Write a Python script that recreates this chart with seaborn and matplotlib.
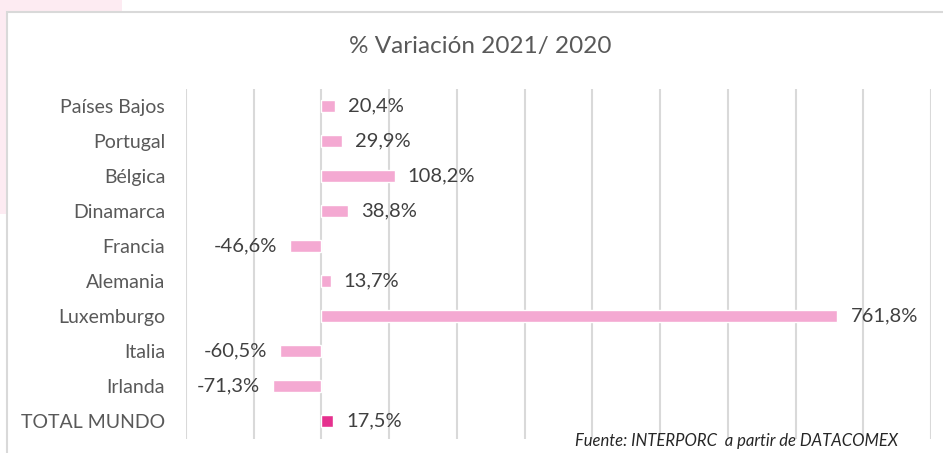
import matplotlib
matplotlib.use("Agg")
import matplotlib.pyplot as plt
from matplotlib.patches import Rectangle
import seaborn as sns
import pandas as pd

# Year-on-year change by destination country (%)
paises = ["Países Bajos", "Portugal", "Bélgica", "Dinamarca", "Francia",
          "Alemania", "Luxemburgo", "Italia", "Irlanda", "TOTAL MUNDO"]
variacion = [20.4, 29.9, 108.2, 38.8, -46.6, 13.7, 761.8, -60.5, -71.3, 17.5]
colores = ["#F4A9D2"] * 9 + ["#E5318E"]

titulo = "% Variación 2021/ 2020"
fuente = "Fuente: INTERPORC  a partir de DATACOMEX"

df = pd.DataFrame({"pais": paises, "var": variacion})

sns.set_theme(style="white")
plt.rcParams["font.family"] = ["Lato", "DejaVu Sans"]

W, H = 943, 453
fig = plt.figure(figsize=(W / 100, H / 100), dpi=100)

# soft pink backdrop in the top-left corner and the white chart frame
fig.patches.append(Rectangle((0, 1 - 214 / H), 122 / W, 214 / H,
                             transform=fig.transFigure, facecolor="#FDEBF2",
                             edgecolor="none", zorder=-3))
fig.patches.append(Rectangle((7 / W, -0.1), 1.0, 1 - 12 / H + 0.1,
                             transform=fig.transFigure, facecolor="white",
                             edgecolor="#D9D9D9", linewidth=1.5, zorder=-2))

ax = fig.add_axes([186 / W, 1 - 438.5 / H, (931 - 186) / W, (438.5 - 88.5) / H])
ax.patch.set_alpha(0)

sns.barplot(data=df, y="pais", x="var", hue="pais", palette=colores,
            orient="h", width=0.34, legend=False, ax=ax, saturation=1)

ax.set_xlim(-200, 900)
ax.set_ylim(len(paises) - 0.5, -0.5)
ax.set_xticks(range(-200, 901, 100))
ax.xaxis.grid(True, color="#D9D9D9", linewidth=1.5)
ax.set_axisbelow(True)
ax.tick_params(axis="x", bottom=False, labelbottom=False)
ax.tick_params(axis="y", left=False, pad=9, labelsize=14, labelcolor="#595959")
for s in ax.spines.values():
    s.set_visible(False)
ax.set_xlabel("")
ax.set_ylabel("")

# value labels beside each bar
for i, v in enumerate(variacion):
    txt = f"{v:.1f}".replace(".", ",") + "%"
    if v >= 0:
        ax.annotate(txt, (v, i), xytext=(13, 0), textcoords="offset pixels",
                    ha="left", va="center", fontsize=14.5, color="#404040")
    else:
        ax.annotate(txt, (v, i), xytext=(-13, 0), textcoords="offset pixels",
                    ha="right", va="center", fontsize=14.5, color="#404040")

fig.text(480 / W, 1 - 47 / H, titulo, ha="center", va="center",
         fontsize=17.5, color="#595959")
fig.text(898 / W, 1 - 441 / H, fuente, ha="right", va="center",
         fontsize=12, style="italic", color="#262626")

fig.savefig("out.png", dpi=100)
